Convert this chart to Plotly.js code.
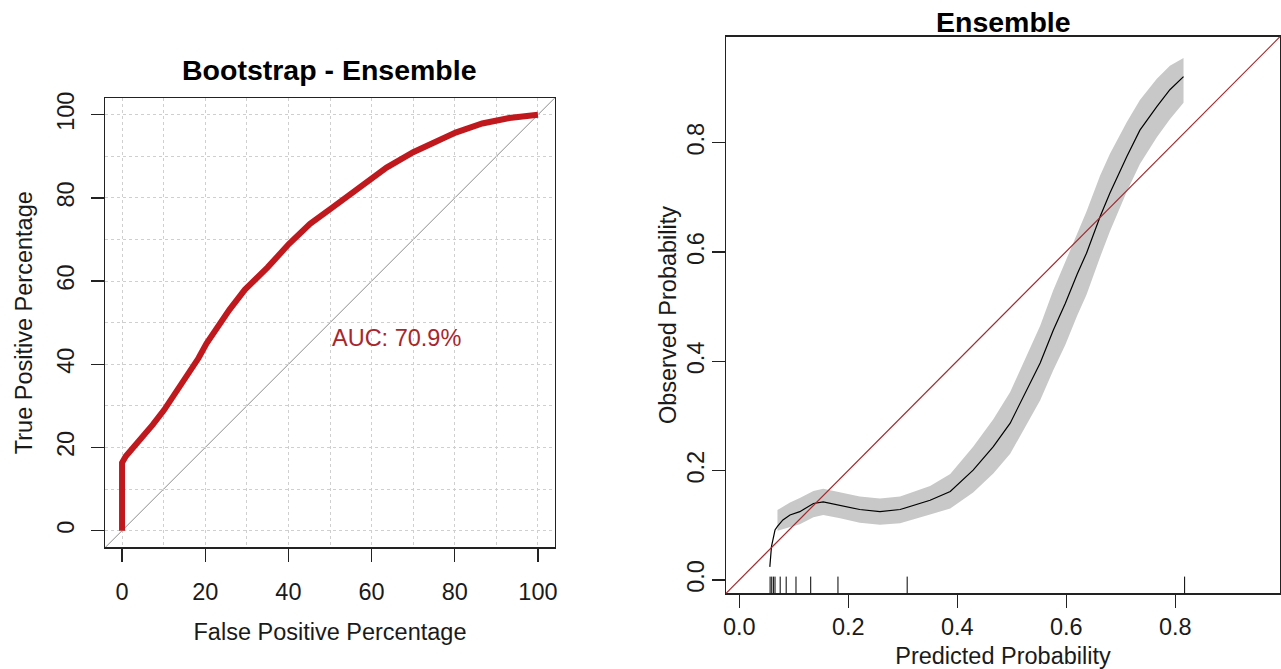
<!DOCTYPE html>
<html>
<head>
<meta charset="utf-8">
<script src="https://cdn.plot.ly/plotly-3.0.1.min.js"></script>
<style>html,body{margin:0;padding:0;background:#fff;}#chart{width:1281px;height:669px;}</style>
</head>
<body>
<div id="chart"></div>
<script>
// ---- Left panel: ROC curve (percent) ----
const rocFPR = [0, 0, 0.9, 2.3, 4.6, 7.4, 10.1, 12.9, 15.7, 18.4, 20.3, 23.0, 25.8, 29.5, 35.0, 40.1, 45.2, 50.7, 55.3, 59.9, 63.6, 70.0, 74.7, 80.2, 86.6, 93.1, 100];
const rocTPR = [0, 16.3, 17.9, 19.5, 22.0, 25.5, 29.0, 33.1, 37.0, 41.5, 45.0, 49.3, 53.1, 57.9, 63.3, 68.9, 73.8, 77.8, 81.2, 84.5, 87.3, 91.0, 93.2, 95.7, 97.9, 99.2, 100];
const rocTicks = [0, 20, 40, 60, 80, 100];
const aucLabel = "AUC: 70.9%";
const aucPos = [50, 50];

// ---- Right panel: calibration curve ----
const calX = [0.056, 0.059, 0.0655, 0.070, 0.080, 0.093, 0.111, 0.136, 0.154, 0.185, 0.221, 0.258, 0.295, 0.350, 0.387, 0.429, 0.466, 0.497, 0.527, 0.552, 0.576, 0.598, 0.620, 0.637, 0.662, 0.680, 0.711, 0.735, 0.766, 0.790, 0.815];
const calY = [0.024, 0.061, 0.0915, 0.098, 0.110, 0.119, 0.125, 0.140, 0.143, 0.137, 0.129, 0.125, 0.129, 0.146, 0.162, 0.201, 0.244, 0.287, 0.348, 0.397, 0.457, 0.506, 0.560, 0.598, 0.665, 0.708, 0.775, 0.823, 0.866, 0.897, 0.921];
const bandX = [0.070, 0.080, 0.093, 0.111, 0.136, 0.154, 0.185, 0.221, 0.258, 0.295, 0.350, 0.387, 0.429, 0.466, 0.497, 0.527, 0.552, 0.576, 0.598, 0.620, 0.637, 0.662, 0.680, 0.711, 0.735, 0.766, 0.790, 0.815];
const bandUpper = [0.128, 0.134, 0.142, 0.150, 0.163, 0.167, 0.161, 0.153, 0.149, 0.153, 0.172, 0.194, 0.244, 0.294, 0.344, 0.410, 0.465, 0.530, 0.582, 0.636, 0.674, 0.740, 0.780, 0.838, 0.878, 0.917, 0.941, 0.955];
const bandLower = [0.090, 0.093, 0.097, 0.102, 0.115, 0.119, 0.113, 0.105, 0.101, 0.104, 0.120, 0.131, 0.160, 0.195, 0.231, 0.286, 0.329, 0.384, 0.430, 0.484, 0.522, 0.591, 0.638, 0.711, 0.761, 0.810, 0.843, 0.873];
const rugX = [0.0565, 0.0595, 0.0625, 0.0655, 0.075, 0.086, 0.104, 0.131, 0.181, 0.308, 0.817];
const calTicks = [0.0, 0.2, 0.4, 0.6, 0.8];
const calTickText = ["0.0", "0.2", "0.4", "0.6", "0.8"];

const FONT = "Liberation Sans, Arial, Helvetica, sans-serif";
const TXT = "#1a1a1a";
const RED = "#c0181d";

const traces = [
  {x: rocFPR, y: rocTPR, xaxis: "x", yaxis: "y", type: "scatter", mode: "lines",
   line: {color: RED, width: 6}, hoverinfo: "skip"},
  {x: bandX, y: bandLower, xaxis: "x2", yaxis: "y2", type: "scatter", mode: "lines",
   line: {width: 0, color: "#c8c8c8"}, hoverinfo: "skip"},
  {x: bandX, y: bandUpper, xaxis: "x2", yaxis: "y2", type: "scatter", mode: "lines",
   line: {width: 0, color: "#c8c8c8"}, fill: "tonexty", fillcolor: "#c8c8c8", hoverinfo: "skip"},
  {x: calX, y: calY, xaxis: "x2", yaxis: "y2", type: "scatter", mode: "lines",
   line: {color: "#000", width: 1.2}, hoverinfo: "skip"}
];

const axBase = {
  showline: true, linecolor: "#222", linewidth: 1.5, mirror: true,
  ticks: "outside", ticklen: 13, tickwidth: 1.3, tickcolor: "#222",
  zeroline: false, tickfont: {family: FONT, size: 23.5, color: TXT}
};
const titleFont = {family: FONT, size: 23.5, color: TXT};

const shapes = [
  {type: "line", xref: "x domain", yref: "y domain", x0: 0, y0: 0, x1: 1, y1: 1,
   line: {color: "#8c8c8c", width: 1}, layer: "below"},
  {type: "line", xref: "x2 domain", yref: "y2 domain", x0: 0, y0: 0, x1: 1, y1: 1,
   line: {color: "#a0282d", width: 1.2}, layer: "above"}
].concat(rugX.map(v => ({type: "line", xref: "x2", yref: "y2 domain", x0: v, x1: v, y0: 0, y1: 0.03,
   line: {color: "#000", width: 1}, layer: "above"})));

const layout = {
  width: 1281, height: 669,
  margin: {l: 0, r: 0, t: 0, b: 0},
  paper_bgcolor: "#fff", plot_bgcolor: "#fff",
  showlegend: false,
  xaxis: Object.assign({}, axBase, {
    domain: [0.08228, 0.43294], range: [-4, 104], tickvals: rocTicks, ticktext: rocTicks.map(String),
    showgrid: true, gridcolor: "#cfcfcf", griddash: "dot", gridwidth: 1,
    minor: {dtick: 10, tick0: 0, showgrid: true, gridcolor: "#cfcfcf", griddash: "dot", gridwidth: 1, ticks: ""},
    ticklabelstandoff: 10,
    title: {text: "False Positive Percentage", standoff: 19, font: titleFont},
    anchor: "y"
  }),
  yaxis: Object.assign({}, axBase, {
    domain: [0.18191, 0.85336], range: [-4, 104], tickvals: rocTicks, ticktext: rocTicks.map(String),
    tickangle: -90,
    showgrid: true, gridcolor: "#cfcfcf", griddash: "dot", gridwidth: 1,
    minor: {dtick: 10, tick0: 0, showgrid: true, gridcolor: "#cfcfcf", griddash: "dot", gridwidth: 1, ticks: ""},
    ticklabelstandoff: 8,
    title: {text: "True Positive Percentage", standoff: 13, font: titleFont},
    anchor: "x"
  }),
  xaxis2: Object.assign({}, axBase, {
    domain: [0.56675, 0.99922], range: [-0.0244, 0.992], tickvals: calTicks, ticktext: calTickText,
    showgrid: false, ticklabelstandoff: -1,
    title: {text: "Predicted Probability", standoff: 8, font: titleFont},
    anchor: "y2"
  }),
  yaxis2: Object.assign({}, axBase, {
    domain: [0.11315, 0.94514], range: [-0.0243, 0.994], tickvals: calTicks, ticktext: calTickText,
    tickangle: -90, showgrid: false, ticklabelstandoff: -2,
    title: {text: "Observed Probability", standoff: 0, font: titleFont},
    anchor: "x2"
  }),
  shapes: shapes,
  annotations: [
    {text: "<b>Bootstrap - Ensemble</b>", xref: "x domain", yref: "paper", x: 0.5, y: 0.8954,
     xanchor: "center", yanchor: "middle", showarrow: false,
     font: {family: FONT, size: 28.5, color: "#000"}},
    {text: "<b>Ensemble</b>", xref: "x2 domain", yref: "paper", x: 0.5, y: 0.967,
     xanchor: "center", yanchor: "middle", showarrow: false,
     font: {family: FONT, size: 28.5, color: "#000"}},
    {text: aucLabel, xref: "x", yref: "y", x: aucPos[0], y: aucPos[1],
     xanchor: "left", yanchor: "top", showarrow: false,
     font: {family: FONT, size: 23.5, color: "#a8262c"}}
  ]
};

Plotly.newPlot("chart", traces, layout, {staticPlot: true, displayModeBar: false});
</script>
</body>
</html>
